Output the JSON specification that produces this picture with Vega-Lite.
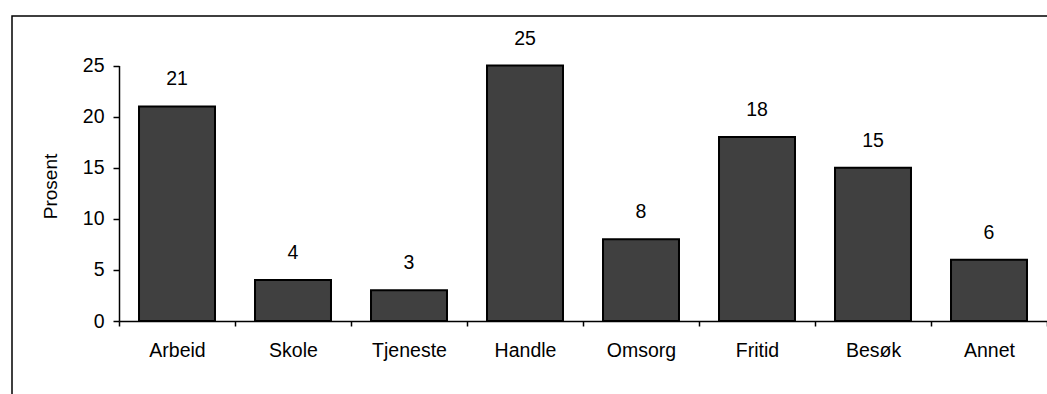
{
  "$schema": "https://vega.github.io/schema/vega-lite/v6.json",
  "autosize": {"type": "none"},
  "width": 1041,
  "height": 384,
  "padding": {"left": 12, "top": 16, "right": -6, "bottom": -6},
  "background": "white",
  "config": {
    "view": {"stroke": "black", "strokeWidth": 1.5},
    "font": "Liberation Sans",
    "axis": {
      "domainColor": "black",
      "domainWidth": 1.5,
      "tickColor": "black",
      "tickWidth": 1.5,
      "labelColor": "black",
      "labelFont": "Liberation Sans",
      "labelFontSize": 19.5,
      "titleFont": "Liberation Sans",
      "titleFontSize": 19,
      "titleFontWeight": "normal",
      "titleColor": "black",
      "grid": false
    }
  },
  "data": {
    "values": [
      {"formaal": "Arbeid", "prosent": 21},
      {"formaal": "Skole", "prosent": 4},
      {"formaal": "Tjeneste", "prosent": 3},
      {"formaal": "Handle", "prosent": 25},
      {"formaal": "Omsorg", "prosent": 8},
      {"formaal": "Fritid", "prosent": 18},
      {"formaal": "Besøk", "prosent": 15},
      {"formaal": "Annet", "prosent": 6}
    ]
  },
  "encoding": {
    "x": {
      "field": "formaal",
      "type": "nominal",
      "sort": null,
      "scale": {"range": [107, 1035], "paddingInner": 0, "paddingOuter": 0},
      "axis": {
        "title": null,
        "offset": -79,
        "labelAngle": 0,
        "tickBand": "extent",
        "tickSize": 5,
        "labelPadding": 15
      }
    },
    "y": {
      "field": "prosent",
      "type": "quantitative",
      "scale": {"domain": [0, 25], "range": [305, 49.5], "nice": false},
      "axis": {
        "title": "Prosent",
        "offset": -107,
        "values": [0, 5, 10, 15, 20, 25],
        "tickSize": 6,
        "labelPadding": 9,
        "titlePadding": 22,
        "titleY": 170
      }
    }
  },
  "layer": [
    {
      "mark": {"type": "bar", "fill": "#404040", "stroke": "black", "strokeWidth": 2, "width": {"band": 0.655}}
    },
    {
      "mark": {"type": "text", "fontSize": 19.5, "font": "Liberation Sans", "color": "black", "baseline": "alphabetic", "dy": -21},
      "encoding": {"text": {"field": "prosent", "type": "quantitative"}}
    }
  ]
}
